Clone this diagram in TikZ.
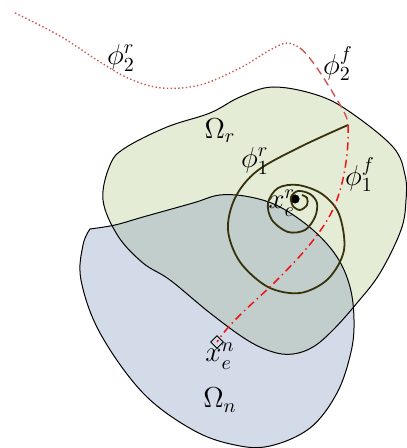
\documentclass[tikz,border=0pt]{standalone}
\usetikzlibrary{shapes.geometric}
\definecolor{gfill}{RGB}{229,236,214}
\definecolor{bfill}{RGB}{211,219,232}
\definecolor{ofill}{RGB}{193,206,203}
\definecolor{spiralc}{RGB}{55,50,10}
\definecolor{softred}{RGB}{205,85,85}
\definecolor{hardred}{RGB}{240,20,20}
\begin{document}
\begin{tikzpicture}[x=0.5pt,y=-0.5pt,
  lbl/.style={font=\fontsize{14}{16}\selectfont, inner sep=0pt},
  outline/.style={line width=0.5pt, black},
  spiralline/.style={line width=0.9pt, spiralc},
  dotline/.style={line width=0.7pt, softred, dash pattern=on 0.7pt off 1.2pt},
  dashline/.style={line width=0.7pt, softred, dash pattern=on 4pt off 2.5pt},
  dashdotline/.style={line width=0.75pt, hardred, dash pattern=on 4pt off 2pt on 0.7pt off 2pt}]
\useasboundingbox (0,0) rectangle (406,448);
\def\greenpath{plot[smooth cycle, tension=0.6] coordinates {(103,200) (110,165) (125,148) (167,127) (210,113) (240,97) (273,87) (317,95) (350,112) (393,147) (405,175) (406,200) (401,230) (380,273) (357,303) (333,330) (313,347) (293,354) (273,352) (247,340) (210,313) (170,280) (143,263) (118,236)}}
\def\bluepath{(90,229) plot[smooth, tension=0.6] coordinates {(90,229) (115,225) (143,217) (193,203) (220,195) (250,197) (280,207) (313,230) (337,257) (350,287) (354,320) (351,352) (337,393) (310,428) (270,446) (235,445) (193,430) (143,393) (100,333) (81,280) (83,245) (90,229)} -- cycle}
% fills
\fill[bfill] \bluepath;
\fill[gfill] \greenpath;
\begin{scope}
  \clip \bluepath;
  \fill[ofill] \greenpath;
\end{scope}
\draw[outline] \bluepath;
\draw[outline] \greenpath;
% key points
\coordinate (start) at (348,125);
\coordinate (bend) at (300,48);
\node[circle, fill=black, minimum size=4.6pt, inner sep=0pt] (xr) at (295,199) {};
\node[diamond, draw, line width=0.45pt, minimum size=6.5pt, inner sep=0pt] (xn) at (217,342) {};
% spiral
\draw[spiralline] (start) plot[smooth, tension=0.55] coordinates {(348,125) (300,147) (257,171) (235,198) (228,230) (240,262) (268,287) (300,293) (328,279) (344,250) (339,214) (322,194) (298,185) (278,188) (268,203) (272,220) (288,232) (305,230) (315,217) (317,203) (310,194) (298,191) (291,197) (293,206) (300,210) (307,205) (307,198) (302,195)};
% red curves
\draw[dotline] plot[smooth, tension=0.6] coordinates {(15,13) (60,36) (100,62) (130,79) (162,88) (200,85) (240,68) (270,50) (287,43) (300,48)};
\draw[dashline] (bend) .. controls (310,56) and (322,75) .. (333,93) .. controls (342,108) and (348,117) .. (start);
\draw[dashdotline] (start) .. controls (349,150) and (345,180) .. (335,205) .. controls (322,235) and (295,262) .. (270,287) .. controls (245,310) and (228,325) .. (xn.center);
% labels
\node[lbl] (phi2r) at (121,58) {$\phi_2^r$};
\node[lbl] (phi2f) at (338,64) {$\phi_2^f$};
\node[lbl] (omr) at (220,131) {$\Omega_r$};
\node[lbl] (phi1r) at (255,161) {$\phi_1^r$};
\node[lbl] (phi1f) at (360,175) {$\phi_1^f$};
\node[lbl] (xer) at (282,203) {$x_e^r$};
\node[lbl] (xen) at (220,356) {$x_e^n$};
\node[lbl] (omn) at (220,400) {$\Omega_n$};
\end{tikzpicture}
\end{document}
